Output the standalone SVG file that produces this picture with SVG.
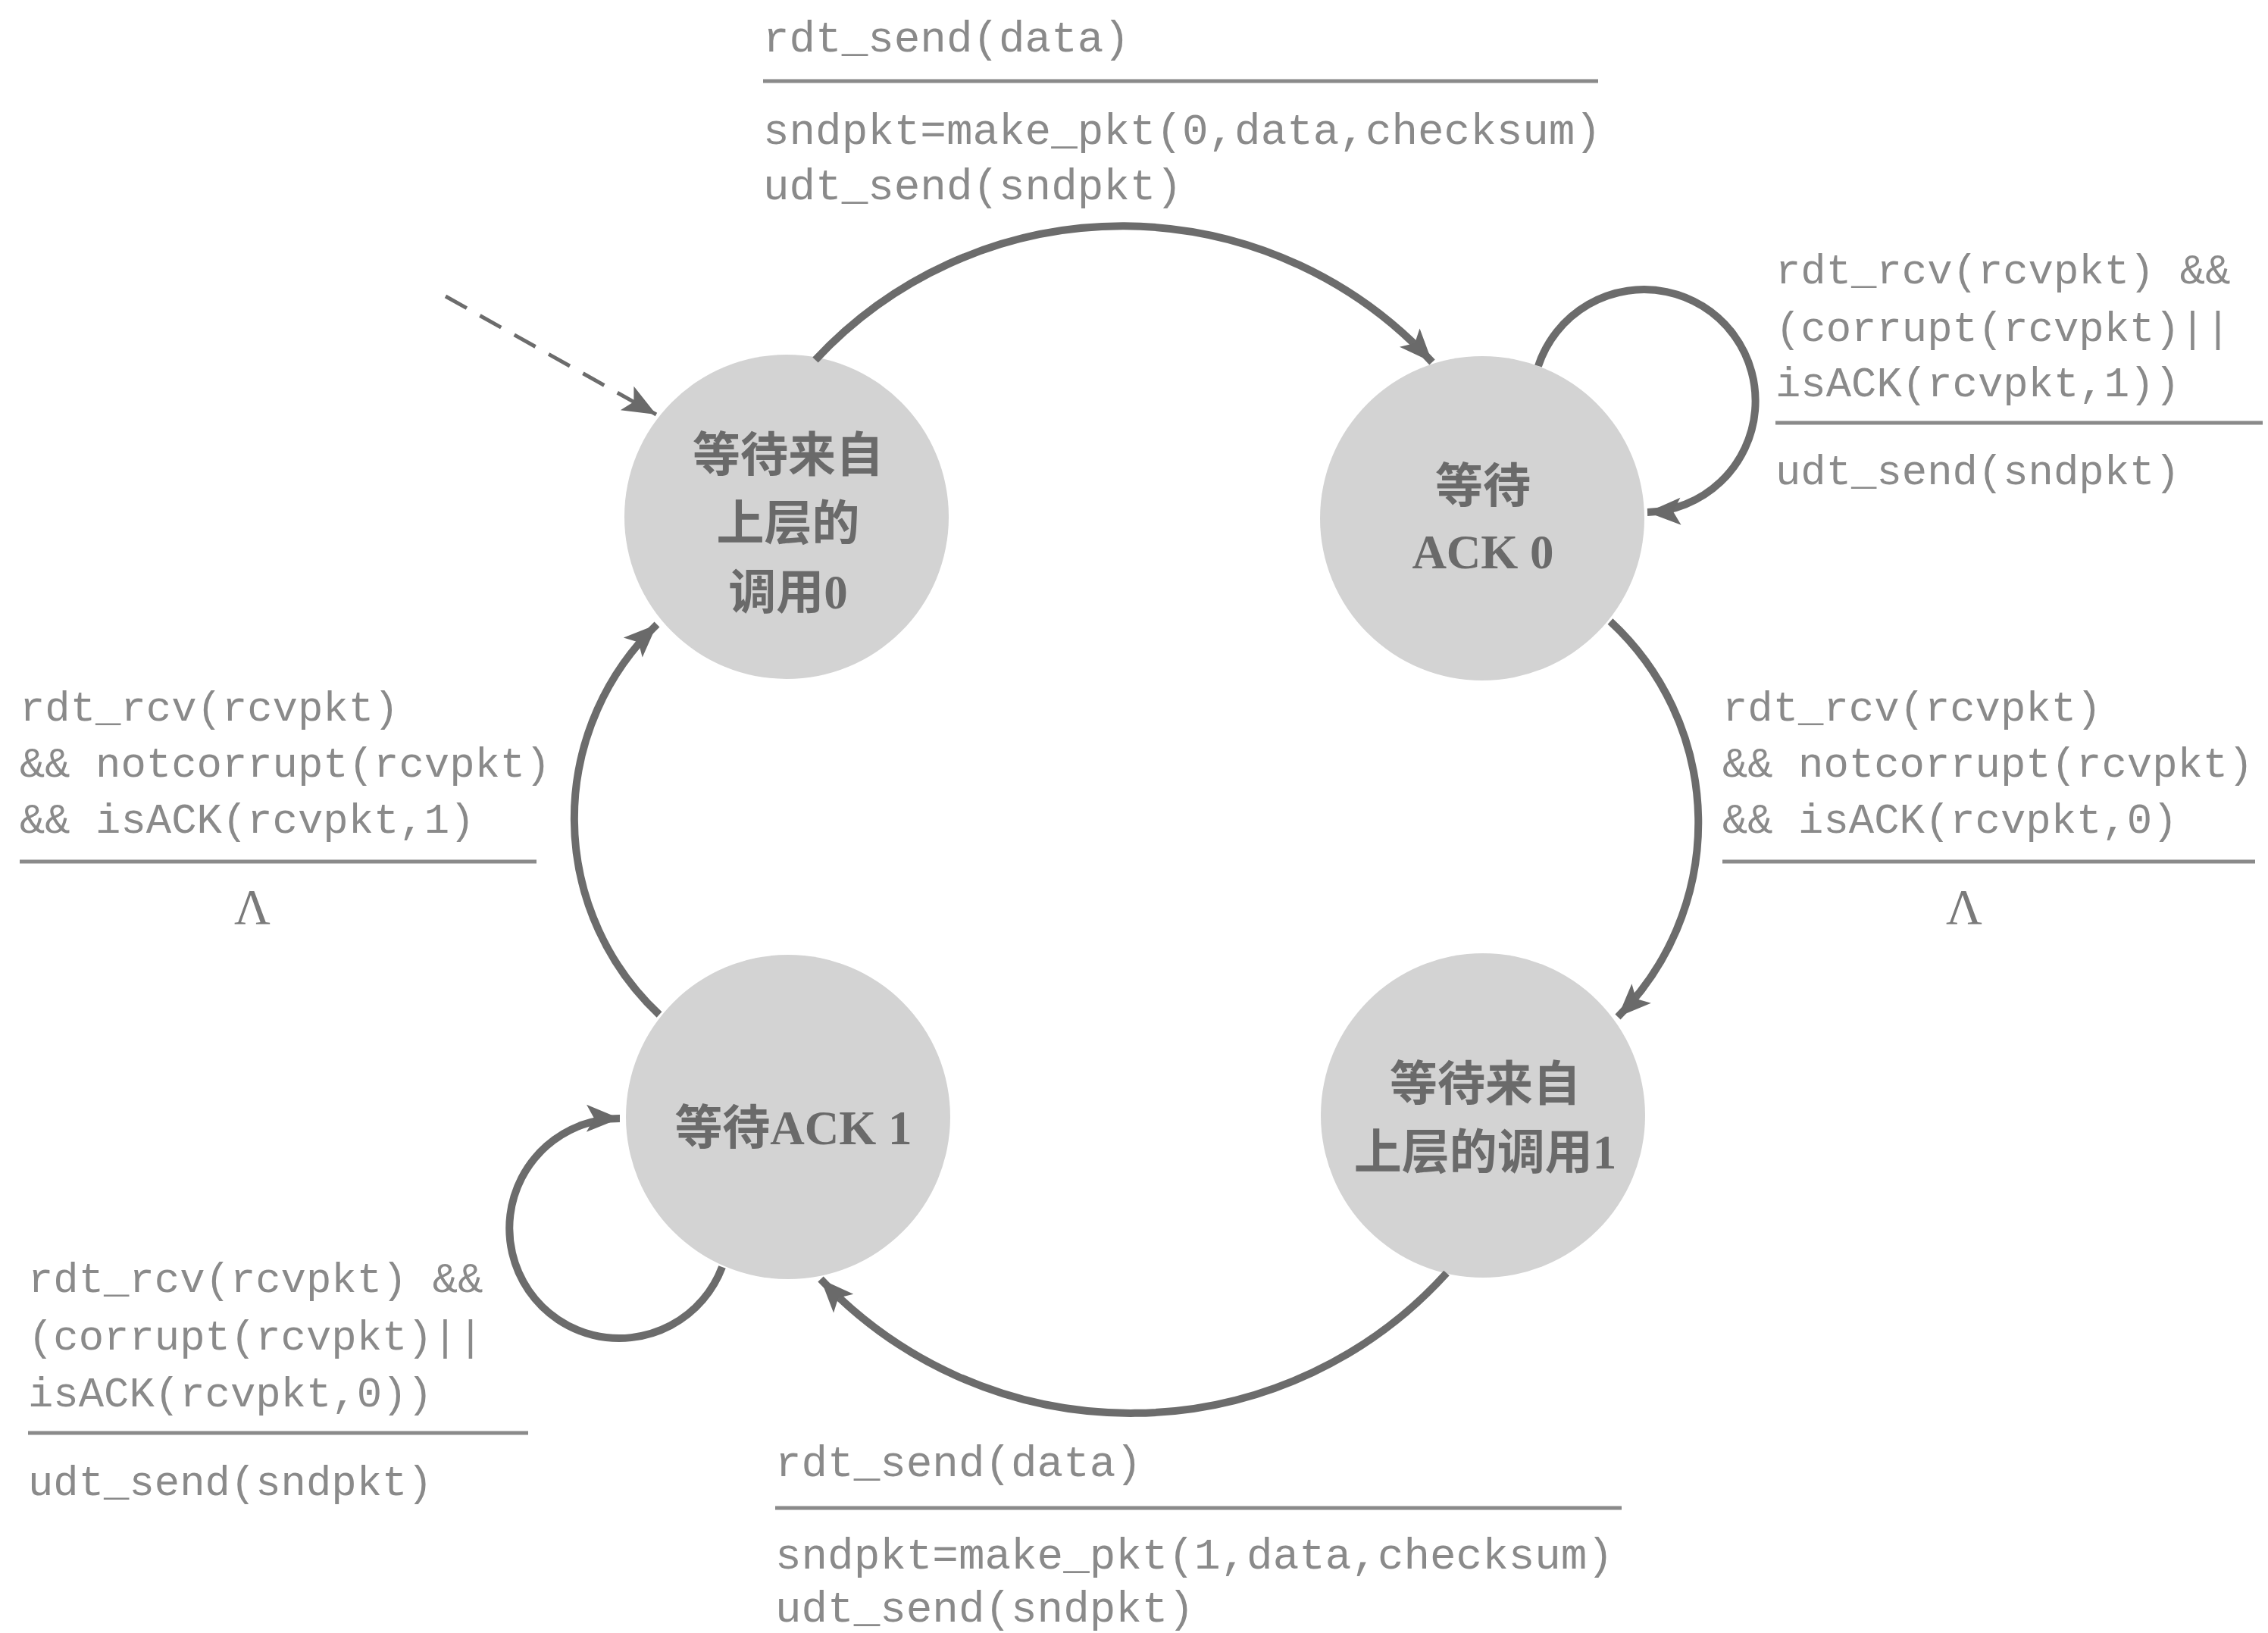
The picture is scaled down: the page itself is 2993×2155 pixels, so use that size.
<svg xmlns="http://www.w3.org/2000/svg" width="2993" height="2155" viewBox="0 0 2993 2155">
<defs>
<style>
.state{fill:#d3d3d3;}
.stext{font-family:"Liberation Serif","Noto Sans CJK SC",serif;font-weight:bold;font-size:63px;fill:#6a6a6a;text-anchor:middle;}
.lbl{font-family:"Liberation Mono",monospace;font-size:57.6px;fill:#8a8a8a;}
.lbls{font-family:"Liberation Mono",monospace;font-size:55.6px;fill:#8a8a8a;}
.lam{font-family:"Liberation Serif",serif;font-size:66px;fill:#7a7a7a;text-anchor:middle;}
.bar{stroke:#8a8a8a;stroke-width:5;fill:none;}
.arc{stroke:#6c6c6c;stroke-width:10;fill:none;marker-end:url(#ah);}
.dash{stroke:#6c6c6c;stroke-width:5;fill:none;stroke-dasharray:32 20;marker-end:url(#ah);}
</style>
<marker id="ah" markerUnits="userSpaceOnUse" markerWidth="60" markerHeight="50" viewBox="-50 -25 60 50" refX="0" refY="0" orient="auto">
<path d="M0,0 L-44,-18 L-34,0 L-44,18 Z" fill="#6a6a6a"/>
</marker>
</defs>
<rect width="2993" height="2155" fill="#ffffff"/>

<g id="state-wait-call0">
<circle class="state" cx="1038" cy="682" r="214"/>
<text class="stext" x="1040" y="622">等待来自</text>
<text class="stext" x="1040" y="712">上层的</text>
<text class="stext" x="1040" y="803">调用0</text>
</g>
<g id="state-wait-ack0">
<circle class="state" cx="1956" cy="684" r="214"/>
<text class="stext" x="1957" y="663">等待</text>
<text class="stext" x="1957" y="750">ACK 0</text>
</g>
<g id="state-wait-ack1">
<circle class="state" cx="1040" cy="1474" r="214"/>
<text class="stext" x="1047" y="1510">等待ACK 1</text>
</g>
<g id="state-wait-call1">
<circle class="state" cx="1957" cy="1472" r="214"/>
<text class="stext" x="1960" y="1452">等待来自</text>
<text class="stext" x="1960" y="1542">上层的调用1</text>
</g>

<g id="connectors">
<path class="dash" d="M588,391 L866,547"/>
<path class="arc" d="M1076,475 A554,554 0 0 1 1890,478"/>
<path class="arc" d="M2125,820 A362,362 0 0 1 2135,1342"/>
<path class="arc" d="M1909,1680 A562,562 0 0 1 1083,1688"/>
<path class="arc" d="M870,1339 A355,355 0 0 1 867,824"/>
<path class="arc" d="M2030,483 A147,147 0 1 1 2174,676"/>
<path class="arc" d="M953,1672 A145,145 0 1 1 818,1476"/>
</g>

<g id="label-top">
<text class="lbl" x="1007" y="68">rdt_send(data)</text>
<line class="bar" x1="1007" y1="107" x2="2109" y2="107"/>
<text class="lbl" x="1007" y="190">sndpkt=make_pkt(0,data,checksum)</text>
<text class="lbl" x="1007" y="263">udt_send(sndpkt)</text>
</g>
<g id="label-bottom">
<text class="lbl" x="1023" y="1948">rdt_send(data)</text>
<line class="bar" x1="1023" y1="1990" x2="2140" y2="1990"/>
<text class="lbl" x="1023" y="2070">sndpkt=make_pkt(1,data,checksum)</text>
<text class="lbl" x="1023" y="2140">udt_send(sndpkt)</text>
</g>
<g id="label-loop-ack0">
<text class="lbls" x="2343" y="374">rdt_rcv(rcvpkt) &amp;&amp;</text>
<text class="lbls" x="2343" y="450">(corrupt(rcvpkt)||</text>
<text class="lbls" x="2343" y="523">isACK(rcvpkt,1))</text>
<line class="bar" x1="2343" y1="558" x2="2986" y2="558"/>
<text class="lbls" x="2343" y="639">udt_send(sndpkt)</text>
</g>
<g id="label-right">
<text class="lbls" x="2273" y="951">rdt_rcv(rcvpkt)</text>
<text class="lbls" x="2273" y="1025">&amp;&amp; notcorrupt(rcvpkt)</text>
<text class="lbls" x="2273" y="1099">&amp;&amp; isACK(rcvpkt,0)</text>
<line class="bar" x1="2273" y1="1137" x2="2976" y2="1137"/>
<text class="lam" x="2592" y="1219">Λ</text>
</g>
<g id="label-left">
<text class="lbls" x="26" y="951">rdt_rcv(rcvpkt)</text>
<text class="lbls" x="26" y="1025">&amp;&amp; notcorrupt(rcvpkt)</text>
<text class="lbls" x="26" y="1099">&amp;&amp; isACK(rcvpkt,1)</text>
<line class="bar" x1="26" y1="1137" x2="708" y2="1137"/>
<text class="lam" x="333" y="1219">Λ</text>
</g>
<g id="label-loop-ack1">
<text class="lbls" x="37" y="1705">rdt_rcv(rcvpkt) &amp;&amp;</text>
<text class="lbls" x="37" y="1781">(corrupt(rcvpkt)||</text>
<text class="lbls" x="37" y="1856">isACK(rcvpkt,0))</text>
<line class="bar" x1="37" y1="1891" x2="697" y2="1891"/>
<text class="lbls" x="37" y="1973">udt_send(sndpkt)</text>
</g>
</svg>
